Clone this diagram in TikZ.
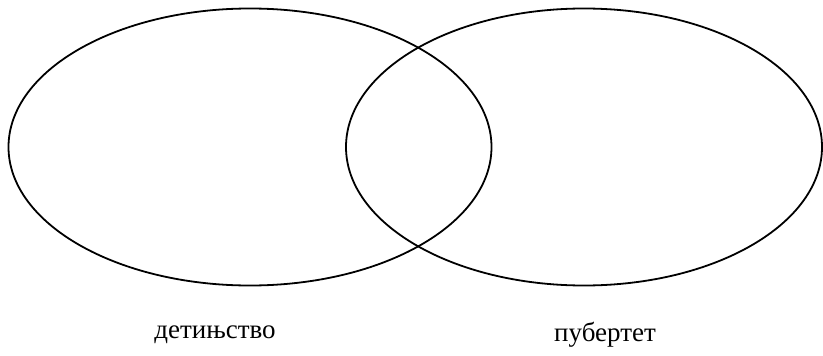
\documentclass[tikz,border=0pt]{standalone}
\usepackage{fontspec}
\setmainfont{Liberation Serif}
\usetikzlibrary{shapes.geometric, positioning}

\begin{document}
\begin{tikzpicture}[
  x=1pt, y=-1pt,
  setoval/.style={ellipse, draw=black, line width=1.8pt, inner sep=0pt,
    minimum width=483pt, minimum height=277pt},
  setlabel/.style={font=\fontsize{27}{32}\selectfont, inner sep=0pt}
]
  \useasboundingbox (0,0) rectangle (823,356);
  \node[setoval] (child) at (250,147) {};
  \node[setoval, minimum width=476pt] (puberty) at (584,147) {};

  \node[setlabel] (childlbl)   at (215,335) {детињство};
  \node[setlabel] (pubertylbl) at (605,335) {пубертет};
\end{tikzpicture}
\end{document}
